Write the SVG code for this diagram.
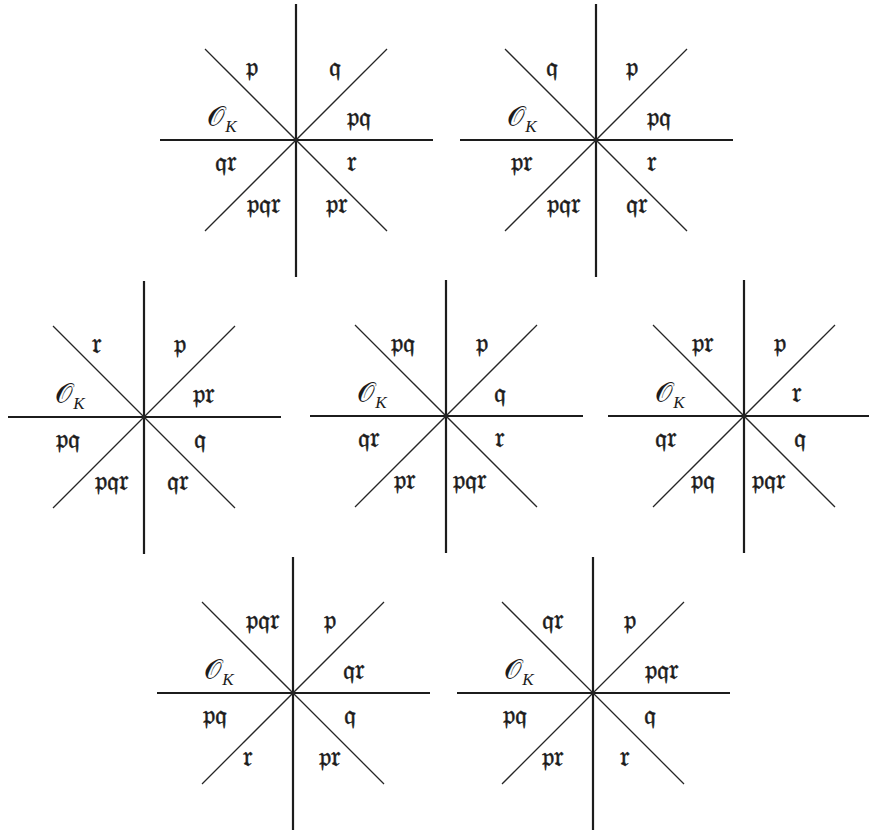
<svg xmlns="http://www.w3.org/2000/svg" xmlns:xlink="http://www.w3.org/1999/xlink" width="869" height="832" viewBox="0 0 869 832">
<style>
.axis{stroke:#1c1c1c;stroke-width:2.2;fill:none}
.diag{stroke:#262626;stroke-width:1.3;fill:none}
.lbl{font-family:"DejaVu Serif","Liberation Serif",serif;font-size:27px;text-anchor:middle;fill:#1c1c1c;stroke:#1c1c1c;stroke-width:0.5}
.ok{font-family:"DejaVu Serif","Liberation Serif",serif;font-size:28px;text-anchor:middle;fill:#1c1c1c}
.sub{font-family:"Liberation Serif",serif;font-style:italic;font-size:17px;fill:#1c1c1c}
</style>
<defs>
<g id="cross">
<line class="axis" x1="0" y1="-136" x2="0" y2="137"/>
<line class="axis" x1="-136" y1="0" x2="137" y2="0"/>
<line class="diag" x1="-91" y1="-91" x2="91" y2="91"/>
<line class="diag" x1="91" y1="-91" x2="-91" y2="91"/>
</g>
<g id="okl">
<text class="ok" x="-74" y="-14">𝒪<tspan class="sub" dy="6">K</tspan></text>
</g>
</defs>
<rect width="869" height="832" fill="#ffffff"/>
<g id="connectors">
<use xlink:href="#cross" transform="translate(296,140)"/>
<use xlink:href="#cross" transform="translate(596,140)"/>
<use xlink:href="#cross" transform="translate(144,417)"/>
<use xlink:href="#cross" transform="translate(446,416)"/>
<use xlink:href="#cross" transform="translate(744,416)"/>
<use xlink:href="#cross" transform="translate(293,693)"/>
<use xlink:href="#cross" transform="translate(593,693)"/>
</g>
<g id="star1" transform="translate(296,140)">
<use xlink:href="#okl"/>
<text class="lbl" x="-44" y="-64">𝔭</text>
<text class="lbl" x="39" y="-64">𝔮</text>
<text class="lbl" x="63" y="-14">𝔭𝔮</text>
<text class="lbl" x="-70" y="31">𝔮𝔯</text>
<text class="lbl" x="56" y="31">𝔯</text>
<text class="lbl" x="-32" y="73">𝔭𝔮𝔯</text>
<text class="lbl" x="41" y="73">𝔭𝔯</text>
</g>
<g id="star2" transform="translate(596,140)">
<use xlink:href="#okl"/>
<text class="lbl" x="-44" y="-64">𝔮</text>
<text class="lbl" x="36" y="-64">𝔭</text>
<text class="lbl" x="63" y="-14">𝔭𝔮</text>
<text class="lbl" x="-74" y="31">𝔭𝔯</text>
<text class="lbl" x="56" y="31">𝔯</text>
<text class="lbl" x="-32" y="73">𝔭𝔮𝔯</text>
<text class="lbl" x="41" y="73">𝔮𝔯</text>
</g>
<g id="star3" transform="translate(144,417)">
<use xlink:href="#okl"/>
<text class="lbl" x="-47" y="-64">𝔯</text>
<text class="lbl" x="36" y="-64">𝔭</text>
<text class="lbl" x="60" y="-14">𝔭𝔯</text>
<text class="lbl" x="-76" y="31">𝔭𝔮</text>
<text class="lbl" x="56" y="31">𝔮</text>
<text class="lbl" x="-32" y="73">𝔭𝔮𝔯</text>
<text class="lbl" x="34" y="73">𝔮𝔯</text>
</g>
<g id="star4" transform="translate(446,416)">
<use xlink:href="#okl"/>
<text class="lbl" x="-43" y="-64">𝔭𝔮</text>
<text class="lbl" x="36" y="-64">𝔭</text>
<text class="lbl" x="54" y="-14">𝔮</text>
<text class="lbl" x="-77" y="31">𝔮𝔯</text>
<text class="lbl" x="54" y="31">𝔯</text>
<text class="lbl" x="-41" y="73">𝔭𝔯</text>
<text class="lbl" x="24" y="73">𝔭𝔮𝔯</text>
</g>
<g id="star5" transform="translate(744,416)">
<use xlink:href="#okl"/>
<text class="lbl" x="-41" y="-64">𝔭𝔯</text>
<text class="lbl" x="36" y="-64">𝔭</text>
<text class="lbl" x="53" y="-14">𝔯</text>
<text class="lbl" x="-78" y="31">𝔮𝔯</text>
<text class="lbl" x="56" y="31">𝔮</text>
<text class="lbl" x="-41" y="73">𝔭𝔮</text>
<text class="lbl" x="25" y="73">𝔭𝔮𝔯</text>
</g>
<g id="star6" transform="translate(293,693)">
<use xlink:href="#okl"/>
<text class="lbl" x="-30" y="-64">𝔭𝔮𝔯</text>
<text class="lbl" x="37" y="-64">𝔭</text>
<text class="lbl" x="61" y="-14">𝔮𝔯</text>
<text class="lbl" x="-78" y="31">𝔭𝔮</text>
<text class="lbl" x="57" y="31">𝔮</text>
<text class="lbl" x="-45" y="73">𝔯</text>
<text class="lbl" x="37" y="73">𝔭𝔯</text>
</g>
<g id="star7" transform="translate(593,693)">
<use xlink:href="#okl"/>
<text class="lbl" x="-40" y="-64">𝔮𝔯</text>
<text class="lbl" x="37" y="-64">𝔭</text>
<text class="lbl" x="69" y="-14">𝔭𝔮𝔯</text>
<text class="lbl" x="-78" y="31">𝔭𝔮</text>
<text class="lbl" x="57" y="31">𝔮</text>
<text class="lbl" x="-40" y="73">𝔭𝔯</text>
<text class="lbl" x="32" y="73">𝔯</text>
</g>
</svg>
